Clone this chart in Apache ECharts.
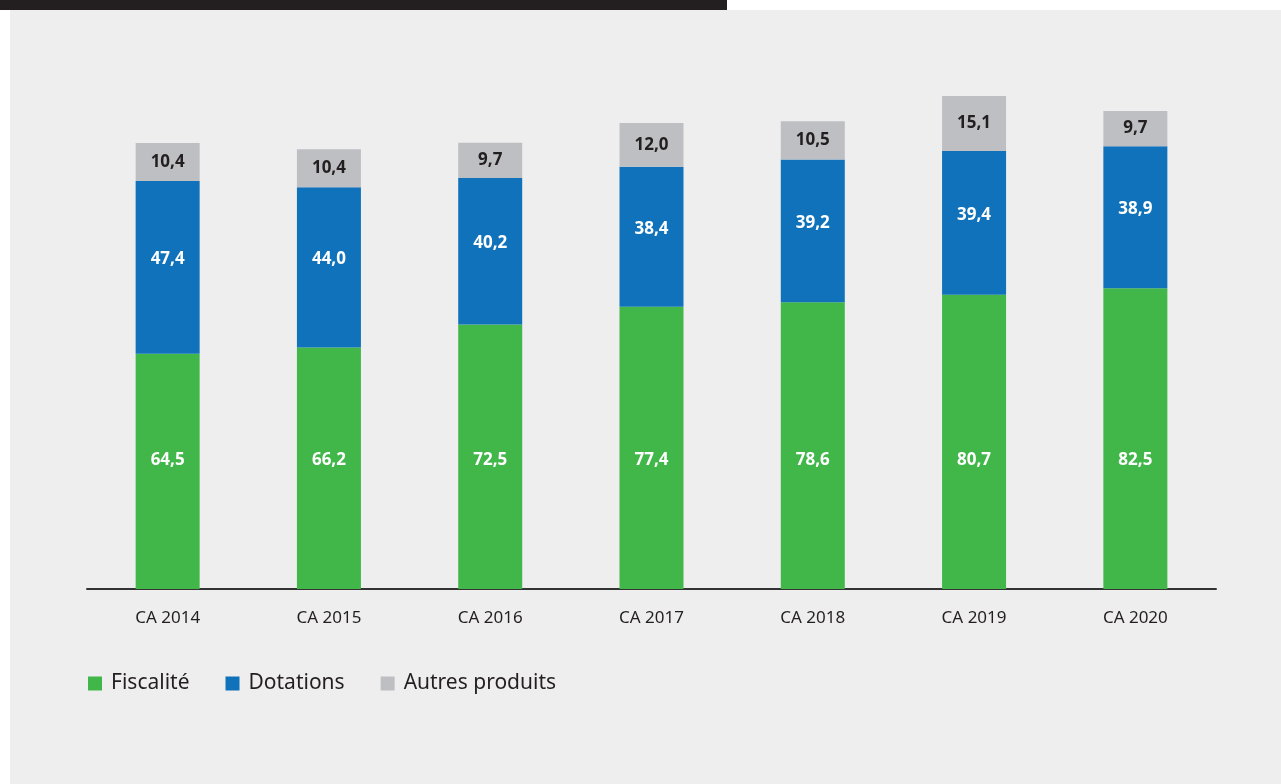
<!DOCTYPE html>
<html><head><meta charset="utf-8">
<script src="https://cdn.jsdelivr.net/npm/echarts@6/dist/echarts.min.js"></script>
<style>html,body{margin:0;padding:0;background:#fff}#c{width:1281px;height:784px}</style>
</head><body><div id="c"></div>
<script>
const categories = ['CA 2014','CA 2015','CA 2016','CA 2017','CA 2018','CA 2019','CA 2020'];
const fiscalite = [64.5, 66.2, 72.5, 77.4, 78.6, 80.7, 82.5];
const dotations = [47.4, 44.0, 40.2, 38.4, 39.2, 39.4, 38.9];
const autres = [10.4, 10.4, 9.7, 12.0, 10.5, 15.1, 9.7];

const fmt = p => p.value.toFixed(1).replace('.', ',');
const chart = echarts.init(document.getElementById('c'), null, {renderer:'canvas'});
const lbl = (color, extra) => Object.assign({show:true, position:'inside', formatter:fmt, color:color, fontSize:17, fontWeight:'bold', fontFamily:'Open Sans'}, extra||{});
chart.setOption({
  backgroundColor:'#ffffff',
  animation:false,
  graphic:[
    {type:'rect', z:-10, shape:{x:10,y:10,width:1271,height:774}, style:{fill:'#eeeeee'}},
    {type:'rect', z:-9, shape:{x:0,y:0,width:727,height:10}, style:{fill:'#231f20'}}
  ],
  grid:{left:87, right:65, top:42, bottom:195, containLabel:false},
  legend:{left:83, top:668, itemWidth:14, itemHeight:14, itemGap:36, icon:'rect',
    textStyle:{fontSize:21, color:'#231f20', fontFamily:'Noto Sans', padding:[0,0,0,4]},
    data:['Fiscalité','Dotations','Autres produits']},
  xAxis:{type:'category', data:categories,
    axisLine:{lineStyle:{color:'#333333', width:2}}, axisTick:{show:false},
    axisLabel:{fontSize:17, color:'#231f20', margin:21, fontFamily:'Noto Sans'}},
  yAxis:{type:'value', min:0, max:150, show:false, splitLine:{show:false}},
  series:[
    {name:'Fiscalité', type:'bar', stack:'t', data:fiscalite, barWidth:64, itemStyle:{color:'#41b649'}, label:lbl('#ffffff', {position:'insideBottom', distance:120})},
    {name:'Dotations', type:'bar', stack:'t', data:dotations, barWidth:64, itemStyle:{color:'#1072bb'}, label:lbl('#ffffff', {offset:[0,-8]})},
    {name:'Autres produits', type:'bar', stack:'t', data:autres, barWidth:64, itemStyle:{color:'#bebfc3'}, label:lbl('#231f20')}
  ]
});
</script></body></html>
